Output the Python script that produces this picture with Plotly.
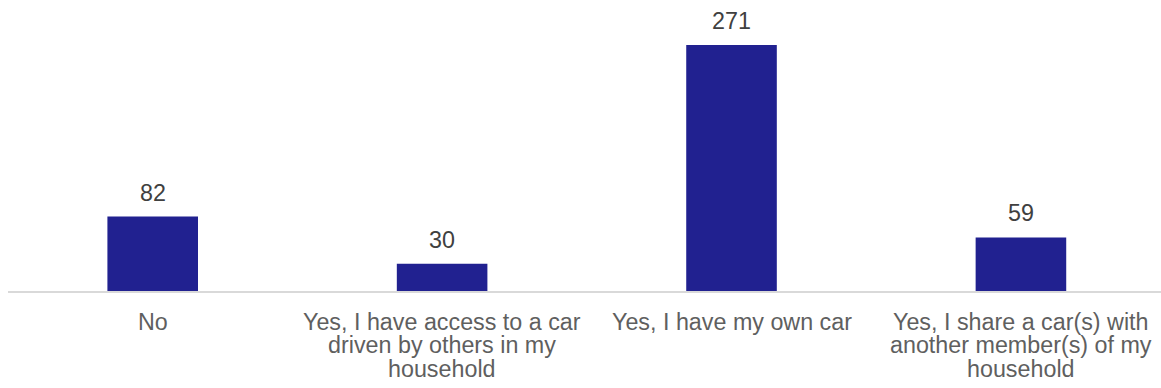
import plotly.graph_objects as go

# Survey responses: access to a car
categories = [
    "No",
    "Yes, I have access to a car driven by others in my household",
    "Yes, I have my own car",
    "Yes, I share a car(s) with another member(s) of my household",
]
label_lines = [
    ["No"],
    ["Yes, I have access to a car", "driven by others in my", "household"],
    ["Yes, I have my own car"],
    ["Yes, I share a car(s) with", "another member(s) of my", "household"],
]
counts = [82, 30, 271, 59]

BAR_COLOR = "#212190"
FONT = "Liberation Sans, Arial, sans-serif"
FS = 23.3
LINE_H = 23.5

fig = go.Figure(
    go.Bar(
        x=categories,
        y=counts,
        width=0.313,
        marker=dict(color=BAR_COLOR, line=dict(width=0)),
        hoverinfo="x+y",
    )
)

annotations = []
# value labels above bars
for cat, v in zip(categories, counts):
    annotations.append(dict(
        x=cat, y=v, xref="x", yref="y", text=str(v), showarrow=False,
        yanchor="bottom", yshift=9,
        font=dict(family=FONT, size=FS, color="#404040"),
    ))
# category labels, one annotation per wrapped line for tight line spacing
for cat, lines in zip(categories, label_lines):
    for i, line in enumerate(lines):
        annotations.append(dict(
            x=cat, y=0, xref="x", yref="paper", text=line, showarrow=False,
            yanchor="top", yshift=-15.5 - i * LINE_H,
            font=dict(family=FONT, size=FS, color="#5f5f5f"),
        ))

fig.update_layout(
    width=1161,
    height=388,
    margin=dict(l=8, r=0, t=0, b=97),
    paper_bgcolor="white",
    plot_bgcolor="white",
    showlegend=False,
    annotations=annotations,
    xaxis=dict(
        type="category",
        range=[-0.5, 3.484],
        showticklabels=False,
        showline=True,
        linecolor="#d9d9d9",
        linewidth=2,
        ticks="",
        showgrid=False,
        zeroline=False,
        fixedrange=True,
    ),
    yaxis=dict(
        range=[0, 320.6],
        visible=False,
        showgrid=False,
        zeroline=False,
        fixedrange=True,
    ),
)

fig.write_html("out.html", config={"displayModeBar": False})
